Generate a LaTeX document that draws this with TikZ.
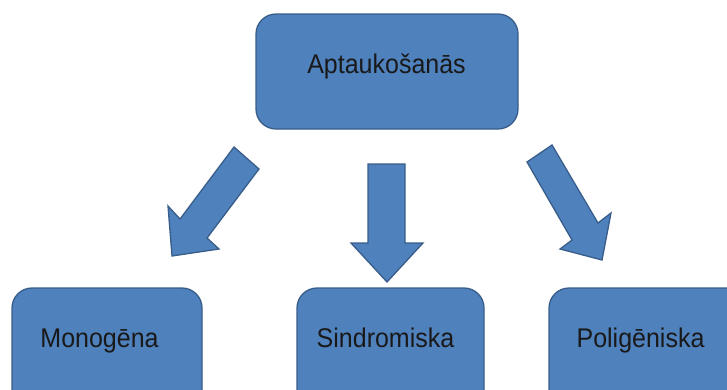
\documentclass[tikz,border=0pt]{standalone}
\usepackage{fontspec}
\setmainfont{Liberation Sans}
\definecolor{boxfill}{HTML}{4F81BD}
\definecolor{boxline}{HTML}{385D8A}
\newcommand{\tallertext}[1]{\scalebox{1}[1.08]{#1}}
\begin{document}
\begin{tikzpicture}[x=1pt,y=-1pt,
  blk/.style={draw=boxline,fill=boxfill,line width=1.3pt,rounded corners=20pt},
  arr/.style={draw=boxline,fill=boxfill,line width=1.3pt,line join=miter},
  lbl/.style={anchor=base,inner sep=0pt,font=\fontsize{25}{30}\selectfont,text=black!90}]
\useasboundingbox (0,0) rectangle (727,389);
\clip (0,0) rectangle (727,389);
% boxes
\path[blk] (256,14) rectangle (518,129);
\path[blk] (12,288) rectangle (202,410);
\path[blk] (297,288) rectangle (484,410);
\path[blk] (549,288) rectangle (760,410);
% labels
\node[lbl] (t0) at (386.5,73) {\tallertext{Aptaukošanās}};
\node[lbl] (t1) at (99.5,347.5) {\tallertext{Monogēna}};
\node[lbl] (t2) at (385.5,347.5) {\tallertext{Sindromiska}};
\node[lbl] (t3) at (640.5,347.5) {\tallertext{Poligēniska}};
% arrows
\path[arr] (234,147) -- (259,169) -- (207,238) -- (219,249) -- (172,256) -- (168,206) -- (180,219) -- cycle;
\path[arr] (368,164) -- (405,164) -- (405,243) -- (423,243) -- (387,282) -- (351,243) -- (368,243) -- cycle;
\path[arr] (552,145) -- (527,162) -- (572,240) -- (560,249) -- (602,260) -- (611,213) -- (598,223) -- cycle;
\end{tikzpicture}
\end{document}
